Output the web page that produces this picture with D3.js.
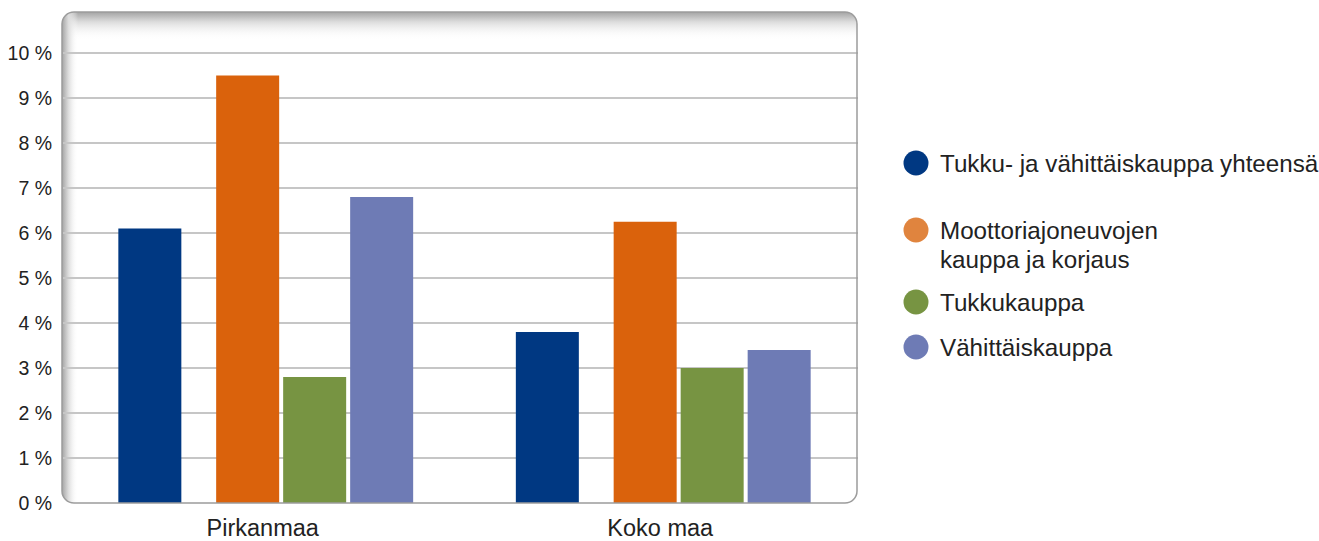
<!DOCTYPE html>
<html lang="fi">
<head>
<meta charset="UTF-8">
<title>Kaupan kasvu</title>
<style>
  body { margin: 0; background: #fff; }
  svg { display: block; font-family: "Liberation Sans", Arial, sans-serif; }
</style>
</head>
<body>
<svg width="1319" height="541"></svg>
<script src="https://d3js.org/d3.v7.min.js"></script>
<script>
  // data
  const regions = ["Pirkanmaa", "Koko maa"];
  const series = ["Tukku- ja vähittäiskauppa yhteensä", "Moottoriajoneuvojen kauppa ja korjaus", "Tukkukauppa", "Vähittäiskauppa"];
  const legendLines = [["Tukku- ja vähittäiskauppa yhteensä"], ["Moottoriajoneuvojen", "kauppa ja korjaus"], ["Tukkukauppa"], ["Vähittäiskauppa"]];
  const pirkanmaa = [6.1, 9.5, 2.8, 6.8];
  const kokoMaa = [3.8, 6.25, 3.0, 3.4];
  const yTicks = [0, 1, 2, 3, 4, 5, 6, 7, 8, 9, 10];

  const barColors = ["#003882", "#da620c", "#779442", "#6e7bb5"];
  const legendColors = ["#003882", "#e0843e", "#779442", "#6e7bb5"];

  const svg = d3.select("svg");
  const frame = { left: 62, top: 12, right: 857, bottom: 503 };

  const y = d3.scaleLinear().domain([0, 10]).range([503, 53]);
  const x0 = d3.scaleBand().domain(regions).range([frame.left, frame.right]).paddingInner(0).paddingOuter(0);
  // bar slots inside a group: first bar stands a bit apart
  const slotPos = [0, 1.46, 2.46, 3.46];
  const slot = d3.scaleLinear().domain([0, 1]).range([0, 67]);
  const barW = 63;
  const groupW = slot(slotPos[3]) + barW;

  const defs = svg.append("defs");
  defs.append("clipPath").attr("id", "frameClip")
    .append("rect")
    .attr("x", frame.left).attr("y", frame.top)
    .attr("width", frame.right - frame.left).attr("height", frame.bottom - frame.top)
    .attr("rx", 12);

  const gTop = defs.append("linearGradient").attr("id", "gTop").attr("x1", 0).attr("y1", 0).attr("x2", 0).attr("y2", 1);
  gTop.append("stop").attr("offset", "0%").attr("stop-color", "#a4a4a4");
  gTop.append("stop").attr("offset", "35%").attr("stop-color", "#dcdcdc");
  gTop.append("stop").attr("offset", "100%").attr("stop-color", "#fff").attr("stop-opacity", 0);

  const gLeft = defs.append("linearGradient").attr("id", "gLeft").attr("x1", 0).attr("y1", 0).attr("x2", 1).attr("y2", 0);
  gLeft.append("stop").attr("offset", "0%").attr("stop-color", "#a4a4a4");
  gLeft.append("stop").attr("offset", "40%").attr("stop-color", "#dcdcdc");
  gLeft.append("stop").attr("offset", "100%").attr("stop-color", "#fff").attr("stop-opacity", 0);

  const plot = svg.append("g").attr("clip-path", "url(#frameClip)");
  plot.append("rect")
    .attr("x", frame.left).attr("y", frame.top)
    .attr("width", frame.right - frame.left).attr("height", frame.bottom - frame.top)
    .attr("fill", "#fff");
  plot.append("rect")
    .attr("x", frame.left).attr("y", frame.top)
    .attr("width", frame.right - frame.left).attr("height", 28)
    .attr("fill", "url(#gTop)");
  plot.append("rect")
    .attr("x", frame.left).attr("y", frame.top)
    .attr("width", 16).attr("height", frame.bottom - frame.top)
    .attr("fill", "url(#gLeft)");

  // gridlines
  svg.append("g").selectAll("line")
    .data(yTicks.filter(d => d > 0))
    .join("line")
    .attr("x1", frame.left + 1).attr("x2", frame.right + 1)
    .attr("y1", d => y(d)).attr("y2", d => y(d))
    .attr("stroke", "#c6c6c6").attr("stroke-width", 2);

  // y labels
  svg.append("g").selectAll("text")
    .data(yTicks)
    .join("text")
    .attr("x", 52).attr("y", d => y(d) + 7)
    .attr("text-anchor", "end")
    .attr("font-size", 19.5).attr("fill", "#222")
    .text(d => d + " %");

  // bars
  const rows = regions.map((r, i) => ({ region: r, values: [pirkanmaa, kokoMaa][i] }));
  const groups = svg.append("g").selectAll("g")
    .data(rows)
    .join("g")
    .attr("transform", d => `translate(${x0(d.region) + (x0.bandwidth() - groupW) / 2 + 5},0)`);
  groups.selectAll("rect")
    .data(d => d.values.map((v, i) => ({ v, i })))
    .join("rect")
    .attr("x", d => slot(slotPos[d.i]))
    .attr("width", barW)
    .attr("y", d => y(d.v))
    .attr("height", d => y(0) - y(d.v))
    .attr("fill", d => barColors[d.i]);

  // frame border
  svg.append("rect")
    .attr("x", frame.left).attr("y", frame.top)
    .attr("width", frame.right - frame.left).attr("height", frame.bottom - frame.top)
    .attr("rx", 12)
    .attr("fill", "none").attr("stroke", "#9c9c9c").attr("stroke-width", 1.5);

  // x labels
  svg.append("g").selectAll("text")
    .data(regions)
    .join("text")
    .attr("x", d => x0(d) + x0.bandwidth() / 2 + 2)
    .attr("y", 536)
    .attr("text-anchor", "middle")
    .attr("font-size", 23.5).attr("fill", "#222")
    .text(d => d);

  // legend
  const legendY = [163, 230, 302, 347];
  const leg = svg.append("g").selectAll("g")
    .data(series)
    .join("g")
    .attr("transform", (d, i) => `translate(916,${legendY[i]})`);
  leg.append("circle").attr("r", 12.5).attr("fill", (d, i) => legendColors[i]);
  leg.append("text")
    .attr("x", 24).attr("y", 8.5)
    .attr("font-size", 24.2).attr("fill", "#222")
    .selectAll("tspan")
    .data((d, i) => legendLines[i])
    .join("tspan")
    .attr("x", 24)
    .attr("dy", (d, j) => j === 0 ? 0 : 29)
    .text(d => d);
</script>
</body>
</html>
